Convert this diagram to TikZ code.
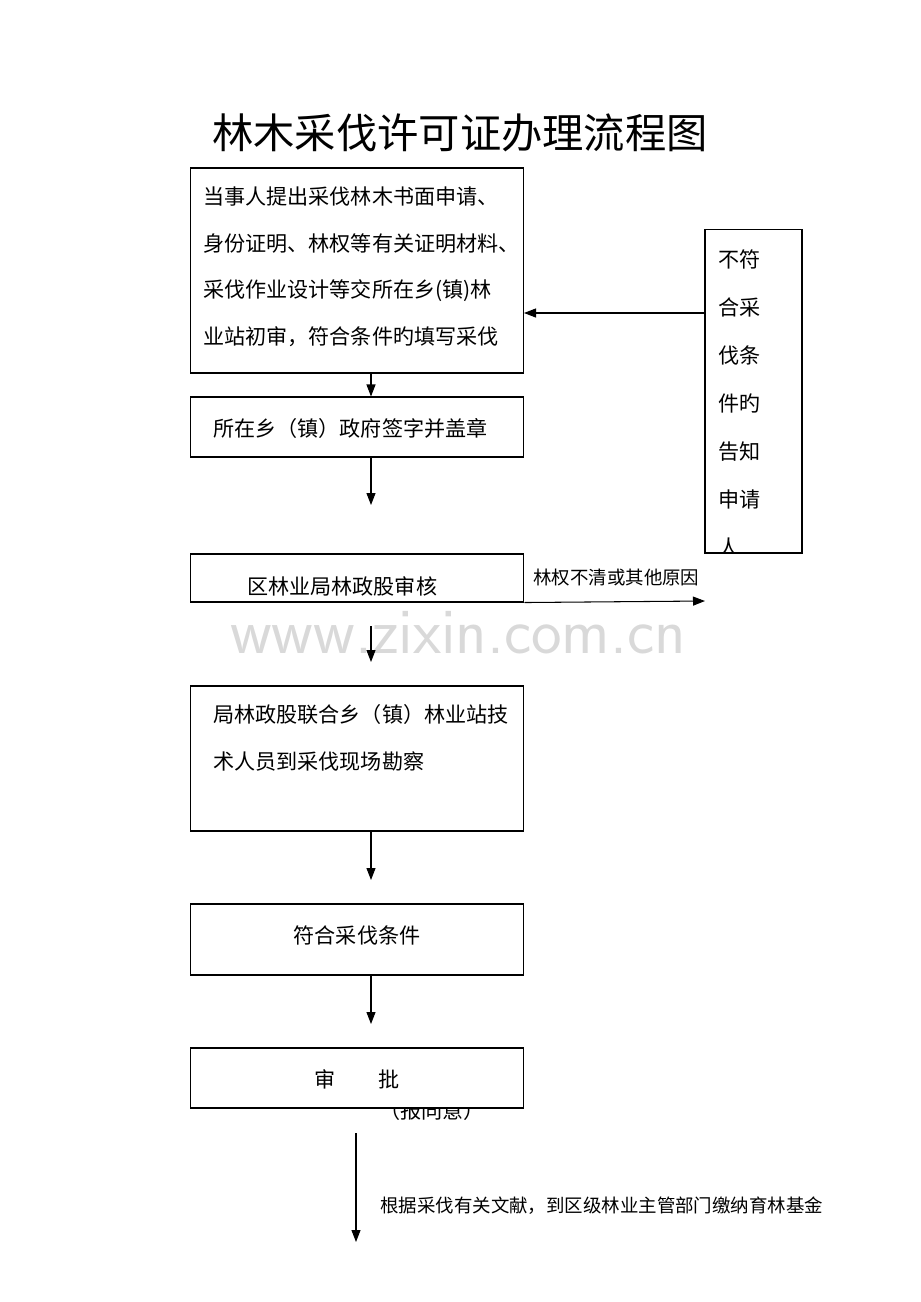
\documentclass[tikz,border=0pt]{standalone}
\usepackage{fontspec}
\setmainfont{Noto Sans CJK SC}
\usetikzlibrary{arrows.meta,calc}

\begin{document}
\begin{tikzpicture}[
    x=0.02cm, y=-0.02cm,
    box/.style={draw, line width=0.6pt, fill=white, minimum width=6.68cm, inner sep=0pt},
    txt/.style={font=\fontsize{12}{26.7}\selectfont, inner sep=0pt, align=left},
    small/.style={font=\fontsize{10.5}{12}\selectfont, inner sep=0pt},
    arrow/.style={-{Triangle[length=2.4mm,width=1.8mm]}, line width=0.6pt}
]
\useasboundingbox (0,0) rectangle (920,1302);
% title and watermark
\node[inner sep=0pt, font=\fontsize{23.5}{28}\selectfont] (title) at (460,133) {林木采伐许可证办理流程图};
\node[inner sep=0pt, text=black!15, font=\sffamily\fontsize{37}{40}\selectfont] (mark) at (458,633) {www.zixin.com.cn};

% text hidden behind the approval box
\node[txt] (agree) at (432,1110) {（报同意）};

% main column
\node[box, minimum height=4.1cm] (apply) at (357,270.5) {};
\node[box, minimum height=1.2cm] (town) at (357,427) {};
\node[box, minimum height=0.96cm] (bureau) at (357,578) {};
\node[box, minimum height=2.9cm] (survey) at (357,758.5) {};
\node[box, minimum height=1.42cm] (meet) at (357,939.5) {};
\node[box, minimum height=1.2cm] (approve) at (357,1078) {};

\node[txt, anchor=north west] (applyT) at (203,186) {当事人提出采伐林木书面申请、\\身份证明、林权等有关证明材料、\\采伐作业设计等交所在乡(镇)林\\业站初审，符合条件旳填写采伐};
\node[txt, anchor=west] (townT) at (213,428) {所在乡（镇）政府签字并盖章};
\node[txt, anchor=west] (bureauT) at (247,586) {区林业局林政股审核};
\node[txt, anchor=north west] (surveyT) at (213,704) {局林政股联合乡（镇）林业站技\\术人员到采伐现场勘察};
\node[txt] (meetT) at (357,935) {符合采伐条件};
\node[txt] (approveT) at (357,1079) {审\hspace{2em}批};

% right box
\node[txt, anchor=north west, font=\fontsize{12}{27.4}\selectfont] (notT) at (718,249) {不符\\合采\\伐条\\件旳\\告知\\申请\\人};
\fill[white] (706,553) rectangle (801,575);
\node[draw, line width=0.6pt, minimum width=1.94cm, minimum height=6.48cm, inner sep=0pt] (notok) at (753.5,391) {};

% connectors
\coordinate (c1) at (371,505);
\coordinate (c2) at (371,626);
\coordinate (c3) at (371,662);
\coordinate (c4) at (371,880);
\coordinate (c5) at (371,1024);
\coordinate (c6) at (356,1133);
\coordinate (c7) at (356,1242);
\coordinate (r1) at (705,313);
\coordinate (r2) at (524,313);
\coordinate (b1) at (705,601);

\draw[arrow] ($(apply.south)+(14,0)$) -- ($(town.north)+(14,0)$);
\draw[arrow] ($(town.south)+(14,0)$) -- (c1);
\draw[arrow] (c2) -- (c3);
\draw[arrow] ($(survey.south)+(14,0)$) -- (c4);
\draw[arrow] ($(meet.south)+(14,0)$) -- (c5);
\draw[arrow] (c6) -- (c7);
\draw[arrow] (r1) -- (r2);
\draw[arrow] (bureau.south east) -- (b1);

\node[small, anchor=west] (whyT) at (533,578) {林权不清或其他原因};
\node[small, anchor=west] (feeT) at (380,1206) {根据采伐有关文献，到区级林业主管部门缴纳育林基金};
\end{tikzpicture}
\end{document}
